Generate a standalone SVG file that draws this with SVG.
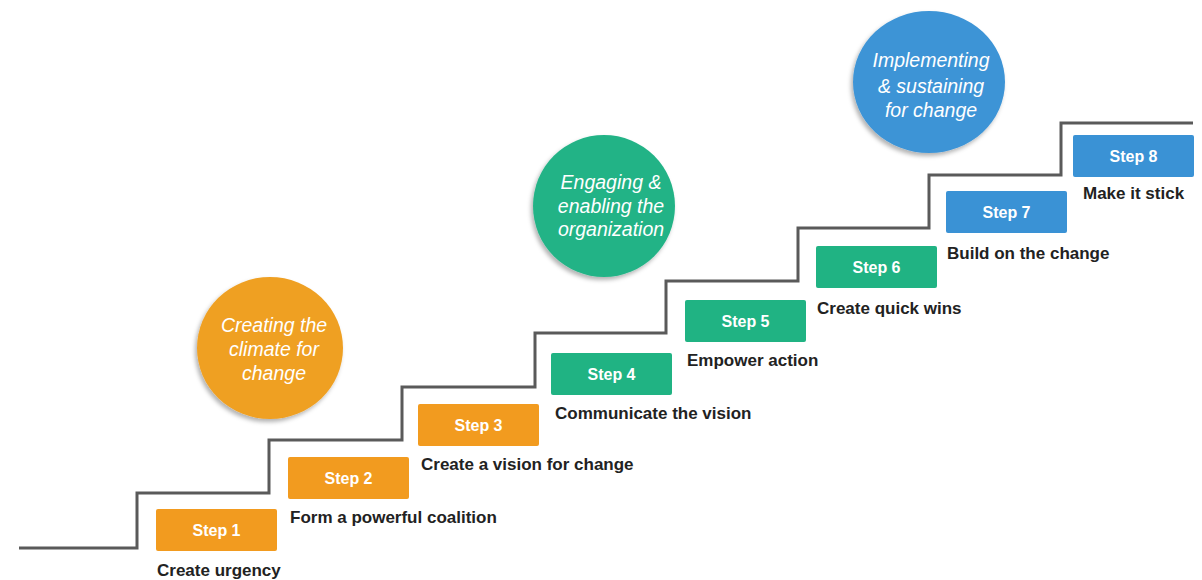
<svg xmlns="http://www.w3.org/2000/svg" width="1202" height="580" viewBox="0 0 1202 580">
  <defs>
    <filter id="soft" x="-20%" y="-20%" width="140%" height="140%">
      <feDropShadow dx="-2" dy="3" stdDeviation="2" flood-color="#000" flood-opacity="0.3"/>
    </filter>
    <style>
      .stair { fill: none; stroke: #5a5a5a; stroke-width: 3; stroke-linejoin: miter; }
      .box { stroke: none; }
      .orange { fill: #F29B1F; }
      .green { fill: #20B383; }
      .blue { fill: #3A92D5; }
      .corange { fill: #EFA024; }
      .cgreen { fill: #22B386; }
      .cblue { fill: #3D94D6; }
      .steptxt { font-family: "Liberation Sans", Arial, sans-serif; font-weight: bold; font-size: 16px; fill: #ffffff; text-anchor: middle; }
      .label { font-family: "Liberation Sans", Arial, sans-serif; font-weight: bold; font-size: 17px; fill: #222222; }
      .phase { font-family: "Liberation Sans", Arial, sans-serif; font-style: italic; font-size: 19.5px; fill: #ffffff; text-anchor: middle; }
    </style>
  </defs>
  <rect width="1202" height="580" fill="#ffffff"/>

  <!-- staircase line -->
  <g id="connectors">
    <path class="stair" d="M19 548 H137 V493 H269 V440 H402 V387 H535 V333 H666 V281 H798 V228 H929 V175 H1061 V123 H1193"/>
  </g>

  <!-- phase circles -->
  <g id="phase1">
    <ellipse class="corange" cx="270" cy="348" rx="73" ry="71" filter="url(#soft)"/>
    <text class="phase" x="274" y="332">Creating the</text>
    <text class="phase" x="274" y="356">climate for</text>
    <text class="phase" x="274" y="380">change</text>
  </g>
  <g id="phase2">
    <ellipse class="cgreen" cx="604" cy="206" rx="71" ry="71" filter="url(#soft)"/>
    <text class="phase" x="611" y="189">Engaging &amp;</text>
    <text class="phase" x="611" y="213">enabling the</text>
    <text class="phase" x="611" y="236">organization</text>
  </g>
  <g id="phase3">
    <ellipse class="cblue" cx="929" cy="82" rx="76" ry="71" filter="url(#soft)"/>
    <text class="phase" x="931" y="67">Implementing</text>
    <text class="phase" x="931" y="93">&amp; sustaining</text>
    <text class="phase" x="931" y="117">for change</text>
  </g>

  <!-- steps -->
  <g id="step1">
    <rect class="box orange" x="156" y="509" width="121" height="42" rx="2"/>
    <text class="steptxt" x="216.5" y="535.5">Step 1</text>
    <text class="label" x="157" y="576">Create urgency</text>
  </g>
  <g id="step2">
    <rect class="box orange" x="288" y="457" width="121" height="42" rx="2"/>
    <text class="steptxt" x="348.5" y="483.5">Step 2</text>
    <text class="label" x="290" y="523">Form a powerful coalition</text>
  </g>
  <g id="step3">
    <rect class="box orange" x="418" y="404" width="121" height="42" rx="2"/>
    <text class="steptxt" x="478.5" y="430.5">Step 3</text>
    <text class="label" x="421" y="470">Create a vision for change</text>
  </g>
  <g id="step4">
    <rect class="box green" x="551" y="353" width="121" height="42" rx="2"/>
    <text class="steptxt" x="611.5" y="379.5">Step 4</text>
    <text class="label" x="555" y="419">Communicate the vision</text>
  </g>
  <g id="step5">
    <rect class="box green" x="685" y="300" width="121" height="42" rx="2"/>
    <text class="steptxt" x="745.5" y="326.5">Step 5</text>
    <text class="label" x="687" y="366">Empower action</text>
  </g>
  <g id="step6">
    <rect class="box green" x="816" y="246" width="121" height="42" rx="2"/>
    <text class="steptxt" x="876.5" y="272.5">Step 6</text>
    <text class="label" x="817" y="314">Create quick wins</text>
  </g>
  <g id="step7">
    <rect class="box blue" x="946" y="191" width="121" height="42" rx="2"/>
    <text class="steptxt" x="1006.5" y="217.5">Step 7</text>
    <text class="label" x="947" y="259">Build on the change</text>
  </g>
  <g id="step8">
    <rect class="box blue" x="1073" y="135" width="121" height="42" rx="2"/>
    <text class="steptxt" x="1133.5" y="161.5">Step 8</text>
    <text class="label" x="1083" y="199">Make it stick</text>
  </g>
</svg>
